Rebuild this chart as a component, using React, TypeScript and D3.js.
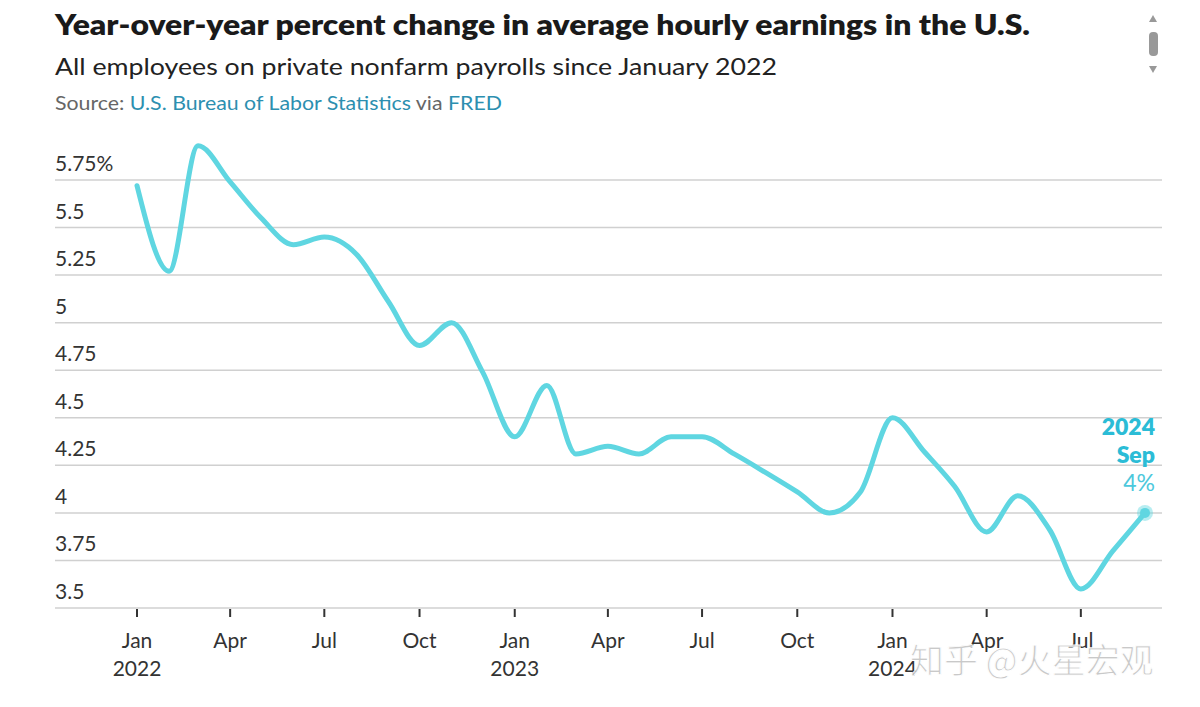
import React, { useEffect, useRef } from 'react';
import * as d3 from 'd3';

// Monthly YoY % change, Jan 2022 .. Sep 2024
const months: string[] = [
  '2022-01', '2022-02', '2022-03', '2022-04', '2022-05', '2022-06',
  '2022-07', '2022-08', '2022-09', '2022-10', '2022-11', '2022-12',
  '2023-01', '2023-02', '2023-03', '2023-04', '2023-05', '2023-06',
  '2023-07', '2023-08', '2023-09', '2023-10', '2023-11', '2023-12',
  '2024-01', '2024-02', '2024-03', '2024-04', '2024-05', '2024-06',
  '2024-07', '2024-08', '2024-09',
];
const values: number[] = [
  5.72, 5.27, 5.93, 5.74, 5.55, 5.41,
  5.45, 5.36, 5.11, 4.88, 5.0, 4.74,
  4.4, 4.67, 4.31, 4.35, 4.31, 4.4,
  4.4, 4.31, 4.21, 4.11, 4.0, 4.11,
  4.5, 4.32, 4.14, 3.9, 4.09, 3.91,
  3.6, 3.8, 4.0,
];
const yTicks: number[] = [3.5, 3.75, 4, 4.25, 4.5, 4.75, 5, 5.25, 5.5, 5.75];
const xTicks: string[] = [
  '2022-01', '2022-04', '2022-07', '2022-10', '2023-01', '2023-04',
  '2023-07', '2023-10', '2024-01', '2024-04', '2024-07',
];
const monthNames = ['Jan', 'Feb', 'Mar', 'Apr', 'May', 'Jun', 'Jul', 'Aug', 'Sep', 'Oct', 'Nov', 'Dec'];

const W = 1200;
const H = 707;
const LINE = '#5fd6e1';
const FONT = 'Lato, "Open Sans", sans-serif';

const App: React.FC = () => {
  const ref = useRef<SVGSVGElement | null>(null);

  useEffect(() => {
    if (!ref.current) return;
    const svg = d3.select(ref.current);
    svg.selectAll('*').remove();

    const parse = d3.timeParse('%Y-%m');
    const data = months.map((m, i) => ({ date: parse(m) as Date, value: values[i] }));

    const x = d3.scaleTime()
      .domain([parse('2022-01') as Date, parse('2024-09') as Date])
      .range([137, 1145]);
    const y = d3.scaleLinear().domain([3.5, 5.75]).range([608, 180]);

    svg.append('rect').attr('width', W).attr('height', H).attr('fill', '#fff');

    // Titles (widths pinned to the original layout)
    svg.append('text')
      .attr('x', 55).attr('y', 35)
      .attr('textLength', 975).attr('lengthAdjust', 'spacingAndGlyphs')
      .style('font-family', FONT).style('font-weight', 800)
      .style('font-size', '28px').style('fill', '#1a1a1a')
      .text('Year-over-year percent change in average hourly earnings in the U.S.');
    svg.append('text')
      .attr('x', 55).attr('y', 75)
      .attr('textLength', 722).attr('lengthAdjust', 'spacingAndGlyphs')
      .style('font-family', FONT).style('font-size', '24px').style('fill', '#222')
      .text('All employees on private nonfarm payrolls since January 2022');
    const src = svg.append('text')
      .attr('x', 55).attr('y', 110)
      .attr('textLength', 447).attr('lengthAdjust', 'spacingAndGlyphs')
      .style('font-family', FONT).style('font-size', '19px').style('fill', '#666');
    src.append('tspan').text('Source: ');
    src.append('tspan').style('fill', '#2c8fb0').text('U.S. Bureau of Labor Statistics');
    src.append('tspan').text(' via ');
    src.append('tspan').style('fill', '#2c8fb0').text('FRED');

    // Scroll indicator
    const sc = svg.append('g').attr('fill', '#999');
    sc.append('path').attr('d', 'M1149,22 L1157,22 L1153,15 Z');
    sc.append('rect').attr('x', 1149).attr('y', 32).attr('width', 9).attr('height', 24).attr('rx', 4);
    sc.append('path').attr('d', 'M1149,66 L1157,66 L1153,73 Z');

    // Grid + y labels
    const grid = svg.append('g');
    yTicks.forEach((t) => {
      grid.append('line')
        .attr('x1', 55).attr('x2', 1162)
        .attr('y1', y(t)).attr('y2', y(t))
        .attr('stroke', '#d0d0d0').attr('stroke-width', 1.5);
      grid.append('text')
        .attr('x', 55).attr('y', y(t) - 9)
        .style('font-family', FONT).style('font-size', '21px').style('fill', '#333')
        .text(t === 5.75 ? '5.75%' : String(t));
    });

    // X ticks
    const xa = svg.append('g');
    xTicks.forEach((m) => {
      const d = parse(m) as Date;
      const px = x(d);
      xa.append('line')
        .attr('x1', px).attr('x2', px).attr('y1', 609).attr('y2', 617)
        .attr('stroke', '#333').attr('stroke-width', 2);
      xa.append('text')
        .attr('x', px).attr('y', 648).attr('text-anchor', 'middle')
        .style('font-family', FONT).style('font-size', '21px').style('fill', '#333')
        .text(monthNames[d.getMonth()]);
      if (d.getMonth() === 0) {
        xa.append('text')
          .attr('x', px).attr('y', 676).attr('text-anchor', 'middle')
          .style('font-family', FONT).style('font-size', '21px').style('fill', '#333')
          .text(String(d.getFullYear()));
      }
    });

    // Line
    const line = d3.line<{ date: Date; value: number }>()
      .x((d) => x(d.date))
      .y((d) => y(d.value))
      .curve(d3.curveMonotoneX);
    svg.append('path')
      .datum(data)
      .attr('d', line)
      .attr('fill', 'none')
      .attr('stroke', LINE)
      .attr('stroke-width', 5)
      .attr('stroke-linecap', 'round')
      .attr('stroke-linejoin', 'round');

    // End point
    const last = data[data.length - 1];
    svg.append('circle')
      .attr('cx', x(last.date)).attr('cy', y(last.value)).attr('r', 8)
      .attr('fill', LINE).attr('opacity', 0.45);
    svg.append('circle')
      .attr('cx', x(last.date)).attr('cy', y(last.value)).attr('r', 5)
      .attr('fill', LINE);

    // Annotation
    const ann = svg.append('g').style('font-family', FONT).attr('text-anchor', 'end');
    ann.append('text').attr('x', 1155).attr('y', 435)
      .style('font-size', '23px').style('font-weight', 800).style('fill', '#2bbcd6')
      .text(String(last.date.getFullYear()));
    ann.append('text').attr('x', 1155).attr('y', 463)
      .style('font-size', '23px').style('font-weight', 800).style('fill', '#2bbcd6')
      .text(monthNames[last.date.getMonth()]);
    ann.append('text').attr('x', 1155).attr('y', 491)
      .style('font-size', '23px').style('fill', '#4cc8dc')
      .text(`${last.value}%`);

    // Watermark
    svg.append('text')
      .attr('x', 910).attr('y', 673)
      .style('font-family', '"Noto Sans CJK SC", sans-serif')
      .style('font-size', '34px')
      .style('fill', '#c4c4c4').style('stroke', '#fff').style('stroke-width', 1)
      .style('opacity', 0.9)
      .text('知乎 @火星宏观');
  }, []);

  return (
    <div style={{ position: 'absolute', left: 0, top: 0 }}>
      <svg ref={ref} width={W} height={H} style={{ display: 'block' }} />
    </div>
  );
};

export default App;
